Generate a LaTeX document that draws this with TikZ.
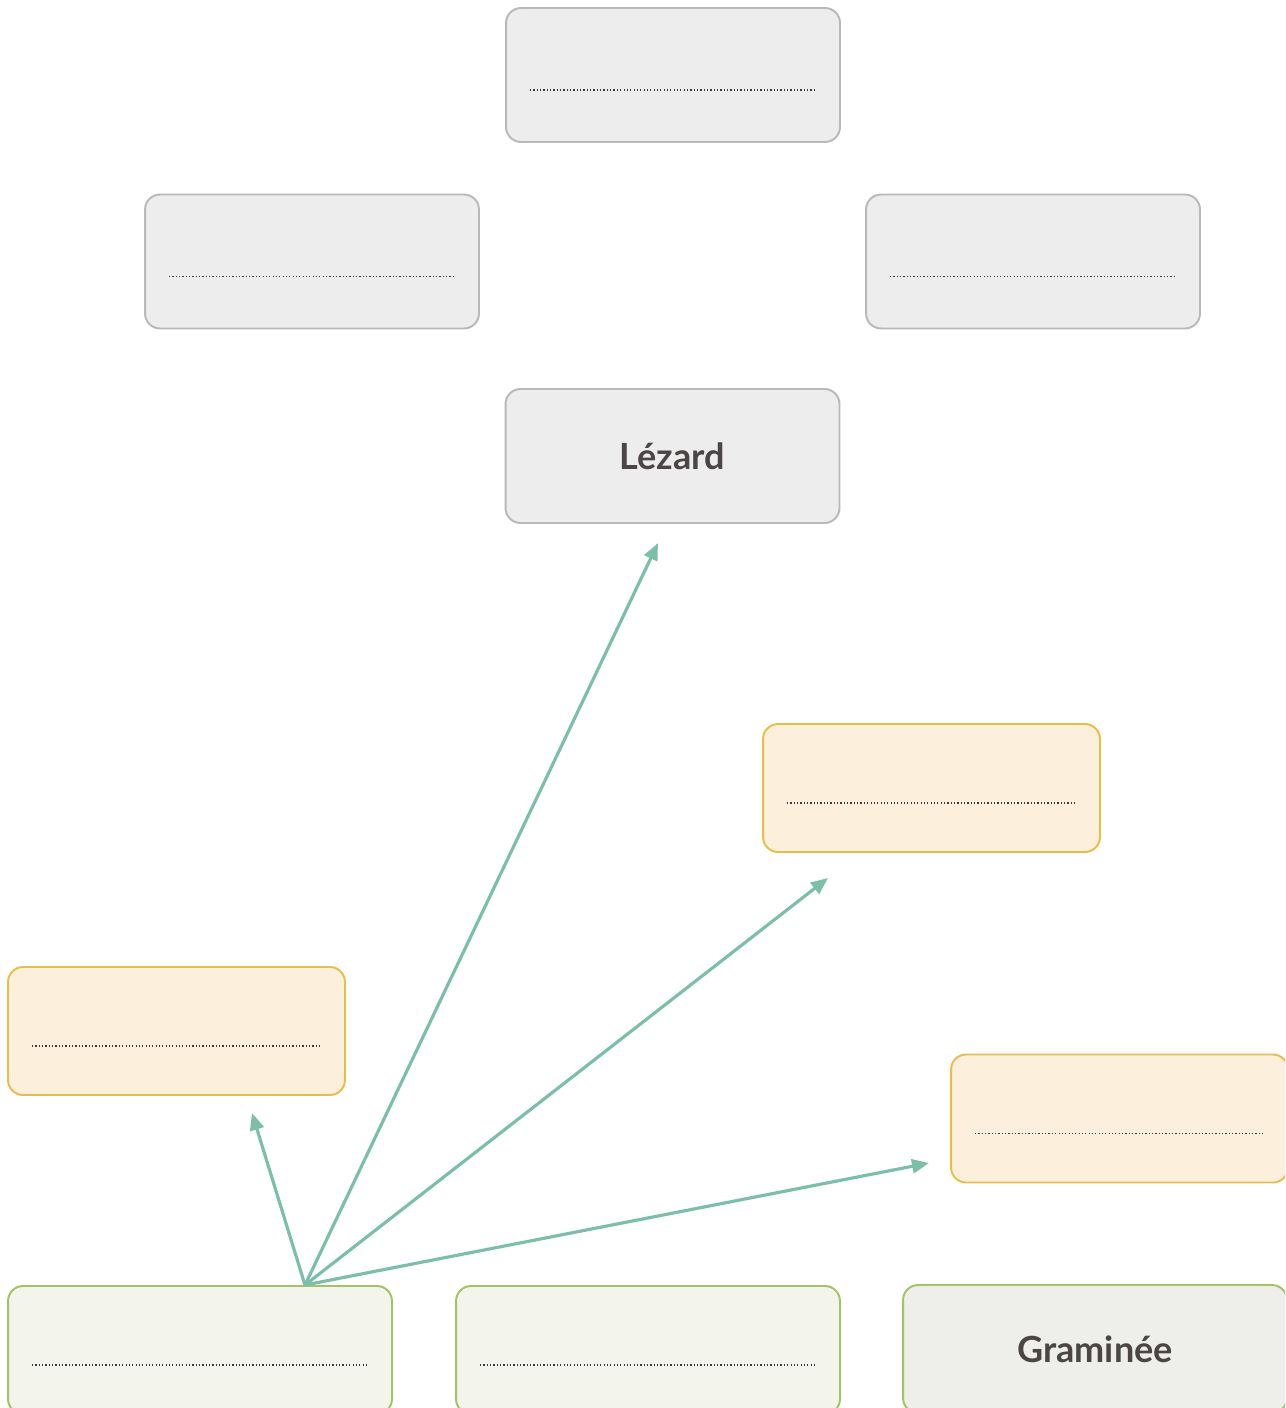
\documentclass[tikz,border=0pt]{standalone}
\usepackage{fontspec}
\setmainfont{Lato}
\usetikzlibrary{arrows.meta,calc}
\definecolor{grayfill}{HTML}{EDEDED}
\definecolor{grayline}{HTML}{B9B9B9}
\definecolor{orfill}{HTML}{FCEFDC}
\definecolor{orline}{HTML}{E8BE48}
\definecolor{grfill}{HTML}{F3F5EC}
\definecolor{grline}{HTML}{A2C466}
\definecolor{gramfill}{HTML}{EEEEEA}
\definecolor{txt}{HTML}{4B4546}
\definecolor{teal}{HTML}{7BBFAA}
\definecolor{dotc}{HTML}{3A3A3A}
\begin{document}
\begin{tikzpicture}[x=0.02cm,y=0.02cm,
  box/.style={rounded corners=0.3cm, line width=1.1pt, inner sep=0pt, outer sep=0pt},
  graybox/.style={box, draw=grayline, fill=grayfill, minimum width=6.68cm, minimum height=2.68cm},
  orbox/.style={box, draw=orline, fill=orfill, minimum width=6.74cm, minimum height=2.56cm},
  grbox/.style={box, draw=grline, fill=grfill, minimum width=7.68cm, minimum height=2.56cm},
  label/.style={font=\bfseries\fontsize{20.5}{24}\selectfont, text=txt},
  dotline/.style={draw=dotc, line width=0.9pt, dash pattern=on 0.7pt off 1.2pt},
  arr/.style={draw=teal, line width=1.8pt, -{Triangle[length=0.34cm,width=0.28cm]}}]
\useasboundingbox (0,0) rectangle (1285,-1408);
\clip (0,0) rectangle (1285,-1408);
\fill[white] (0,0) rectangle (1285,-1408);
% gray boxes
\node[graybox] (top) at (673,-75) {};
\node[graybox] (lgray) at (312,-261.5) {};
\node[graybox] (rgray) at (1033,-261.5) {};
\node[graybox, label] (lezard) at (672.5,-456) {Lézard};
% orange boxes
\node[orbox] (or1) at (931.5,-788) {};
\node[orbox] (or2) at (176.5,-1031) {};
\node[orbox] (or3) at (1119.5,-1118.5) {};
% green boxes
\node[grbox] (gr1) at (200,-1350) {};
\node[grbox] (gr2) at (648,-1350) {};
\node[grbox, fill=gramfill, label] (gram) at (1095,-1349) {Graminée};
% dotted lines
\foreach \n in {top,lgray,rgray}{
  \draw[dotline] ($(\n.north west)+(24,-82)$) -- ($(\n.north east)+(-23,-82)$);
}
\foreach \n in {or1,or2,or3}{
  \draw[dotline] ($(\n.north west)+(24,-79)$) -- ($(\n.north east)+(-24,-79)$);
}
\foreach \n in {gr1,gr2}{
  \draw[dotline] ($(\n.north west)+(24,-79)$) -- ($(\n.north east)+(-24,-79)$);
}
% arrows
\coordinate (src) at (305,-1285);
\coordinate (t1) at (252,-1113);
\coordinate (t2) at (658,-543);
\coordinate (t3) at (828,-878);
\coordinate (t4) at (929,-1163);
\draw[arr] (src) -- (t1);
\draw[arr] (src) -- (t2);
\draw[arr] (src) -- (t3);
\draw[arr] (src) -- (t4);
\end{tikzpicture}
\end{document}
